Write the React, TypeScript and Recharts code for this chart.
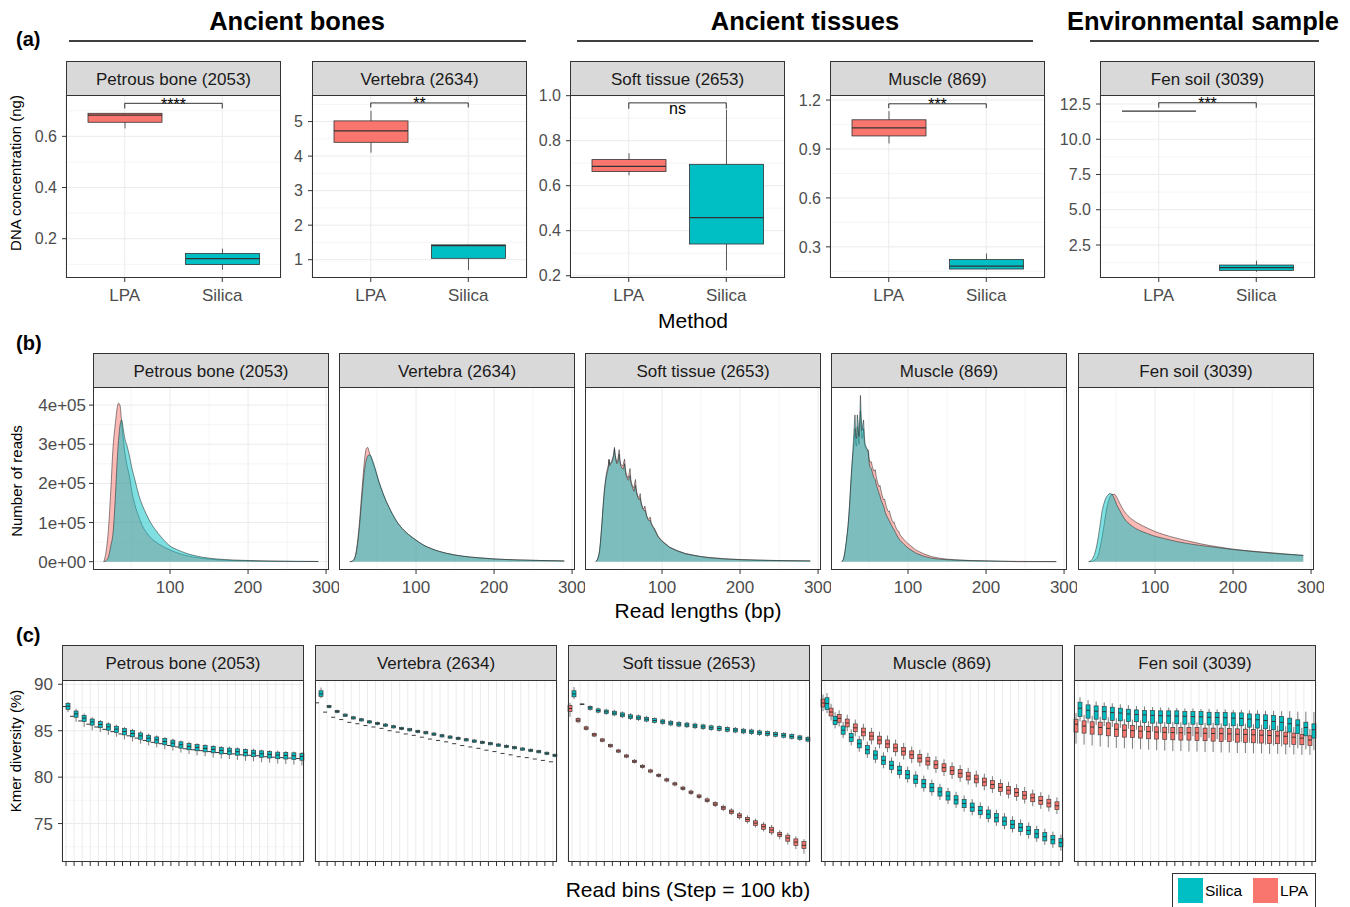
import React from 'react';
import {
  BarChart, Bar, AreaChart, Area, XAxis, YAxis, CartesianGrid, ReferenceLine,
} from 'recharts';

const SILICA = '#00BFC4';
const LPA = '#F8766D';
const AXIS_TEXT = '#4D4D4D';
const DARK = '#333333';
const GRID_MAJOR = '#EBEBEB';
const GRID_MINOR = '#EFEFEF';
const FONT = '"Liberation Sans", Arial, Helvetica, sans-serif';

const sampleNames = ['Petrous bone (2053)', 'Vertebra (2634)', 'Soft tissue (2653)', 'Muscle (869)', 'Fen soil (3039)'];
const methods = ['LPA', 'Silica'];

// ---------- (a) DNA concentration (ng), box stats [lo, q1, median, q3, hi] ----------
const concLpa = [
  [0.631, 0.655, 0.683, 0.69, 0.69],
  [4.1, 4.4, 4.73, 5.02, 5.31],
  [0.646, 0.663, 0.686, 0.716, 0.744],
  [0.934, 0.98, 1.029, 1.079, 1.132],
  [12.0, 12.0, 12.0, 12.0, 12.0],
];
const concSilica = [
  [0.079, 0.099, 0.122, 0.142, 0.161],
  [0.7, 1.04, 1.41, 1.43, 1.43],
  [0.224, 0.341, 0.458, 0.695, 0.937],
  [0.158, 0.164, 0.182, 0.222, 0.259],
  [0.6, 0.7, 0.9, 1.08, 1.39],
];
const concDomains = [[0.0465, 0.7615], [0.47, 5.77], [0.19, 1.003], [0.109, 1.231], [0.16, 13.14]];
const concTicks = [[0.2, 0.4, 0.6], [1, 2, 3, 4, 5], [0.2, 0.4, 0.6, 0.8, 1.0], [0.3, 0.6, 0.9, 1.2], [2.5, 5, 7.5, 10, 12.5]];
const concMinor = [[0.1, 0.3, 0.5, 0.7], [1.5, 2.5, 3.5, 4.5, 5.5], [0.3, 0.5, 0.7, 0.9], [0.15, 0.45, 0.75, 1.05], [1.25, 3.75, 6.25, 8.75, 11.25]];
const concDecimals = [1, 0, 1, 1, 1];
const sigY = [0.729, 5.54, 0.968, 1.177, 12.59];
const sigTip = [0.709, 5.41, 0.942, 1.15, 12.24];
const sigLabel = ['****', '**', 'ns', '***', '***'];

// ---------- (b) read length distributions, values in 1e5 reads ----------
const lenSmooth = [15, 18, 21, 24, 27, 30, 32, 34, 36, 38, 40, 42, 45, 48, 51, 55, 60, 65, 70, 75, 80, 90, 100, 110, 120, 140, 160, 180, 200, 230, 260, 290];
const lenSpiky = [
  15, 16, 17, 18, 19, 20, 21, 22, 23, 24, 25, 26, 27, 28, 29, 30, 31, 32, 33, 34, 35, 36, 37, 38, 39, 40,
  41, 42, 43, 44, 45, 46, 47, 48, 49, 50, 51, 52, 53, 54, 55, 56, 57, 58, 59, 60, 61, 62, 63, 64, 65,
  66, 67, 68, 69, 70, 71, 72, 73, 74, 75, 76, 77, 78, 79, 80, 81, 82, 83, 84, 85, 86, 87, 88, 89, 90,
  95, 100, 110, 120, 130, 140, 150, 160, 180, 200, 220, 240, 260, 290,
];
const petrousLpaReads = [0, 0.25, 0.82, 1.8, 2.94, 3.55, 3.9, 4.05, 3.98, 3.55, 3.15, 2.8, 2.45, 2.18, 1.8, 1.45, 1.15, 0.9, 0.74, 0.62, 0.53, 0.4, 0.3, 0.22, 0.16, 0.09, 0.05, 0.03, 0.02, 0.01, 0.006, 0.004];
const petrousSilicaReads = [0, 0.03, 0.12, 0.4, 0.75, 1.7, 2.5, 3.1, 3.5, 3.62, 3.4, 3.15, 2.95, 2.7, 2.4, 2.09, 1.7, 1.42, 1.2, 1.0, 0.85, 0.6, 0.4, 0.3, 0.22, 0.12, 0.07, 0.045, 0.03, 0.018, 0.01, 0.006];
const vertebraLpaReads = [0, 0.01, 0.08, 0.35, 0.9, 1.65, 2.15, 2.6, 2.88, 2.92, 2.8, 2.68, 2.5, 2.32, 2.12, 1.88, 1.62, 1.4, 1.2, 1.03, 0.9, 0.7, 0.55, 0.42, 0.33, 0.21, 0.14, 0.1, 0.07, 0.045, 0.03, 0.02];
const vertebraSilicaReads = [0, 0.01, 0.07, 0.3, 0.8, 1.5, 1.95, 2.35, 2.58, 2.7, 2.73, 2.7, 2.55, 2.36, 2.14, 1.9, 1.63, 1.41, 1.21, 1.04, 0.9, 0.7, 0.55, 0.42, 0.33, 0.21, 0.14, 0.1, 0.07, 0.045, 0.03, 0.02];
const fenLpaReads = [0, 0.005, 0.02, 0.06, 0.16, 0.4, 0.62, 0.85, 1.12, 1.35, 1.52, 1.64, 1.72, 1.72, 1.64, 1.48, 1.3, 1.18, 1.09, 1.02, 0.96, 0.86, 0.77, 0.7, 0.64, 0.54, 0.45, 0.38, 0.32, 0.26, 0.21, 0.16];
const fenSilicaReads = [0, 0.03, 0.12, 0.3, 0.6, 1.0, 1.28, 1.45, 1.58, 1.66, 1.71, 1.74, 1.72, 1.6, 1.45, 1.3, 1.12, 1.0, 0.92, 0.85, 0.8, 0.72, 0.65, 0.6, 0.55, 0.47, 0.41, 0.36, 0.31, 0.25, 0.2, 0.16];
const softLpaReads = [
  0, 0.02, 0.05, 0.1, 0.17, 0.28, 0.47, 0.72, 0.98, 1.28, 1.55, 1.8, 2.0, 2.15, 2.28, 2.38, 2.45, 2.62, 2.5, 2.52, 2.55, 2.6, 2.66, 2.75, 2.92, 2.72,
  2.62, 2.55, 2.58, 2.7, 2.86, 2.62, 2.5, 2.47, 2.45, 2.45, 2.55, 2.62, 2.38, 2.26, 2.2, 2.15, 2.15, 2.28, 2.38, 2.1, 2.0, 1.95, 1.9, 1.88, 2.02,
  2.1, 1.85, 1.75, 1.68, 1.64, 1.64, 1.74, 1.55, 1.46, 1.4, 1.36, 1.35, 1.42, 1.32, 1.2, 1.14, 1.1, 1.08, 1.12, 1.14, 1.0, 0.95, 0.92, 0.88, 0.86,
  0.65, 0.53, 0.37, 0.28, 0.21, 0.17, 0.13, 0.11, 0.075, 0.055, 0.042, 0.033, 0.027, 0.02,
];
const softSilicaReads = [
  0, 0.02, 0.05, 0.1, 0.18, 0.3, 0.5, 0.75, 1.0, 1.3, 1.55, 1.78, 1.95, 2.1, 2.22, 2.3, 2.38, 2.6, 2.45, 2.5, 2.52, 2.56, 2.62, 2.72, 2.88, 2.7,
  2.58, 2.5, 2.52, 2.6, 2.75, 2.55, 2.45, 2.42, 2.38, 2.36, 2.42, 2.5, 2.3, 2.2, 2.15, 2.1, 2.08, 2.15, 2.2, 2.02, 1.95, 1.9, 1.85, 1.8, 1.88,
  1.95, 1.78, 1.7, 1.64, 1.6, 1.58, 1.62, 1.5, 1.42, 1.37, 1.33, 1.3, 1.32, 1.26, 1.18, 1.12, 1.08, 1.05, 1.05, 1.05, 0.98, 0.93, 0.9, 0.86, 0.83,
  0.63, 0.52, 0.36, 0.27, 0.2, 0.16, 0.13, 0.1, 0.07, 0.05, 0.04, 0.03, 0.025, 0.02,
];
const muscleLpaReads = [
  0, 0.02, 0.05, 0.12, 0.22, 0.36, 0.5, 0.7, 0.88, 1.12, 1.4, 1.74, 2.08, 2.38, 2.68, 2.85, 3.1, 3.4, 3.0, 2.95, 3.45, 3.3, 3.0, 3.35, 3.85, 3.4,
  3.15, 3.25, 3.4, 3.05, 2.95, 2.9, 2.88, 2.86, 2.85, 2.65, 2.55, 2.55, 2.55, 2.45, 2.38, 2.32, 2.32, 2.35, 2.2, 2.1, 2.02, 1.96, 1.92, 1.95, 1.85,
  1.76, 1.68, 1.62, 1.58, 1.6, 1.5, 1.42, 1.36, 1.3, 1.28, 1.3, 1.22, 1.15, 1.08, 1.03, 1.0, 1.02, 0.95, 0.9, 0.85, 0.81, 0.78, 0.78, 0.72, 0.68,
  0.56, 0.46, 0.3, 0.2, 0.13, 0.09, 0.065, 0.05, 0.03, 0.02, 0.012, 0.008, 0.005, 0.003,
];
const muscleSilicaReads = [
  0, 0.02, 0.06, 0.14, 0.25, 0.4, 0.55, 0.72, 0.9, 1.15, 1.45, 1.8, 2.15, 2.45, 2.75, 3.1, 3.45, 3.75, 3.2, 3.15, 3.75, 3.55, 3.2, 3.6, 4.25, 3.7,
  3.35, 3.5, 3.62, 3.2, 3.0, 2.95, 2.9, 2.85, 2.8, 2.55, 2.43, 2.4, 2.38, 2.3, 2.22, 2.15, 2.12, 2.1, 2.0, 1.92, 1.86, 1.8, 1.74, 1.68, 1.6,
  1.55, 1.5, 1.45, 1.4, 1.32, 1.25, 1.2, 1.16, 1.12, 1.08, 1.04, 1.0, 0.96, 0.92, 0.88, 0.85, 0.82, 0.78, 0.74, 0.7, 0.66, 0.63, 0.6, 0.57, 0.54,
  0.44, 0.35, 0.22, 0.14, 0.09, 0.065, 0.05, 0.04, 0.025, 0.02, 0.01, 0, 0, 0,
];
const readTicks = [0, 100000, 200000, 300000, 400000];
const readMinor = [50000, 150000, 250000, 350000];

// ---------- (c) kmer diversity (%) per 100 kb read bin ----------
const bins = Array.from({ length: 30 }, (_, k) => String(k + 1));
const petrousSilicaLo = [87.0, 85.95, 85.4, 85.05, 84.85, 84.55, 84.35, 84.05, 83.85, 83.6, 83.4, 83.2, 83.0, 82.85, 82.65, 82.5, 82.35, 82.25, 82.1, 82.0, 81.95, 81.85, 81.75, 81.7, 81.6, 81.55, 81.45, 81.4, 81.35, 81.25];
const petrousSilicaQ1 = [87.3, 86.45, 85.98, 85.6, 85.32, 85.06, 84.8, 84.55, 84.34, 84.08, 83.84, 83.66, 83.48, 83.3, 83.12, 82.95, 82.84, 82.72, 82.62, 82.5, 82.44, 82.36, 82.28, 82.2, 82.14, 82.06, 81.98, 81.95, 81.9, 81.82];
const petrousSilicaMed = [87.64, 86.81, 86.35, 85.95, 85.67, 85.42, 85.17, 84.92, 84.7, 84.45, 84.2, 84.02, 83.84, 83.67, 83.49, 83.31, 83.2, 83.09, 82.99, 82.88, 82.81, 82.74, 82.66, 82.59, 82.52, 82.45, 82.38, 82.34, 82.31, 82.23];
const petrousSilicaQ3 = [87.95, 87.12, 86.66, 86.26, 85.98, 85.73, 85.48, 85.23, 85.01, 84.76, 84.51, 84.33, 84.15, 83.98, 83.8, 83.62, 83.51, 83.4, 83.3, 83.19, 83.12, 83.05, 82.97, 82.9, 82.83, 82.76, 82.69, 82.65, 82.62, 82.54];
const petrousSilicaHi = [88.1, 87.35, 86.85, 86.45, 86.15, 85.9, 85.65, 85.4, 85.2, 84.95, 84.7, 84.5, 84.3, 84.15, 83.95, 83.8, 83.65, 83.55, 83.45, 83.35, 83.3, 83.2, 83.1, 83.05, 82.95, 82.9, 82.85, 82.8, 82.75, 82.7];
const petrousLpaMed = [87.6, 86.55, 86.05, 85.7, 85.4, 85.15, 84.9, 84.65, 84.45, 84.2, 83.95, 83.75, 83.6, 83.4, 83.25, 83.05, 82.95, 82.85, 82.75, 82.65, 82.55, 82.5, 82.4, 82.35, 82.3, 82.2, 82.15, 82.1, 82.05, 82.0];

const vertebraSilicaLo = [88.5, 87.4, 86.88, 86.48, 86.18, 85.97, 85.75, 85.58, 85.4, 85.22, 85.04, 84.9, 84.72, 84.58, 84.43, 84.25, 84.11, 83.97, 83.82, 83.68, 83.54, 83.4, 83.25, 83.11, 82.97, 82.82, 82.68, 82.54, 82.36, 82.14];
const vertebraSilicaQ1 = [88.7, 87.48, 86.95, 86.55, 86.26, 86.05, 85.83, 85.66, 85.48, 85.3, 85.12, 84.98, 84.8, 84.66, 84.51, 84.33, 84.19, 84.05, 83.9, 83.76, 83.62, 83.48, 83.33, 83.19, 83.05, 82.9, 82.76, 82.62, 82.44, 82.22];
const vertebraSilicaMed = [88.96, 87.6, 87.07, 86.67, 86.38, 86.17, 85.95, 85.78, 85.6, 85.42, 85.24, 85.1, 84.92, 84.78, 84.63, 84.45, 84.31, 84.17, 84.02, 83.88, 83.74, 83.6, 83.45, 83.31, 83.17, 83.02, 82.88, 82.74, 82.56, 82.34];
const vertebraSilicaQ3 = [89.3, 87.72, 87.19, 86.79, 86.5, 86.29, 86.07, 85.9, 85.72, 85.54, 85.36, 85.22, 85.04, 84.9, 84.75, 84.57, 84.43, 84.29, 84.14, 84.0, 83.86, 83.72, 83.57, 83.43, 83.29, 83.14, 83.0, 82.86, 82.68, 82.46];
const vertebraSilicaHi = [89.65, 87.8, 87.28, 86.88, 86.6, 86.38, 86.16, 85.99, 85.82, 85.64, 85.46, 85.31, 85.14, 85.0, 84.85, 84.67, 84.53, 84.39, 84.24, 84.1, 83.96, 83.82, 83.67, 83.53, 83.39, 83.24, 83.1, 82.96, 82.78, 82.56];
const vertebraLpaMed = [88.0, 87.0, 86.45, 86.2, 85.9, 85.75, 85.55, 85.4, 85.25, 85.0, 84.85, 84.65, 84.5, 84.3, 84.1, 83.95, 83.8, 83.6, 83.4, 83.25, 83.1, 82.9, 82.75, 82.55, 82.4, 82.2, 82.1, 81.95, 81.8, 81.65];

const softSilicaLo = [88.4, 87.8, 87.15, 86.85, 86.7, 86.55, 86.35, 86.15, 86.05, 85.9, 85.76, 85.62, 85.48, 85.36, 85.28, 85.18, 85.08, 84.98, 84.9, 84.8, 84.72, 84.62, 84.54, 84.44, 84.36, 84.26, 84.16, 84.04, 83.9, 83.74];
const softSilicaQ1 = [88.65, 87.82, 87.3, 87.0, 86.85, 86.7, 86.5, 86.3, 86.2, 86.04, 85.9, 85.76, 85.62, 85.5, 85.42, 85.32, 85.22, 85.12, 85.04, 84.94, 84.86, 84.76, 84.68, 84.58, 84.5, 84.4, 84.3, 84.18, 84.04, 83.88];
const softSilicaMed = [88.96, 87.85, 87.46, 87.17, 87.03, 86.89, 86.7, 86.5, 86.39, 86.24, 86.1, 85.96, 85.82, 85.7, 85.62, 85.52, 85.42, 85.32, 85.24, 85.14, 85.06, 84.96, 84.88, 84.78, 84.7, 84.6, 84.5, 84.38, 84.24, 84.08];
const softSilicaQ3 = [89.3, 87.88, 87.62, 87.35, 87.22, 87.1, 86.92, 86.72, 86.6, 86.45, 86.3, 86.16, 86.02, 85.9, 85.82, 85.72, 85.62, 85.52, 85.44, 85.34, 85.26, 85.16, 85.08, 84.98, 84.9, 84.8, 84.7, 84.58, 84.44, 84.28];
const softSilicaHi = [89.7, 87.9, 87.75, 87.5, 87.38, 87.25, 87.08, 86.88, 86.75, 86.6, 86.45, 86.3, 86.16, 86.04, 85.96, 85.86, 85.76, 85.66, 85.58, 85.48, 85.4, 85.3, 85.22, 85.12, 85.04, 84.94, 84.84, 84.72, 84.58, 84.42];
const softLpaLo = [86.5, 85.8, 85.0, 84.3, 83.74, 83.14, 82.57, 82.03, 81.45, 80.9, 80.4, 79.93, 79.43, 79.0, 78.52, 78.08, 77.64, 77.2, 76.76, 76.34, 75.9, 75.44, 75.0, 74.58, 74.15, 73.75, 73.3, 72.75, 72.25, 71.75];
const softLpaQ1 = [87.05, 85.96, 85.14, 84.42, 83.86, 83.26, 82.69, 82.15, 81.58, 81.04, 80.54, 80.07, 79.58, 79.15, 78.67, 78.24, 77.8, 77.36, 76.93, 76.52, 76.08, 75.63, 75.21, 74.8, 74.39, 74.0, 73.6, 73.1, 72.65, 72.3];
const softLpaMed = [87.39, 86.13, 85.28, 84.56, 83.99, 83.38, 82.81, 82.27, 81.7, 81.16, 80.66, 80.19, 79.7, 79.27, 78.8, 78.37, 77.94, 77.51, 77.09, 76.69, 76.27, 75.84, 75.44, 75.05, 74.66, 74.3, 73.83, 73.44, 73.01, 72.65];
const softLpaQ3 = [87.72, 86.3, 85.42, 84.7, 84.12, 83.5, 82.93, 82.39, 81.82, 81.28, 80.78, 80.31, 79.82, 79.39, 78.93, 78.5, 78.08, 77.66, 77.25, 76.86, 76.46, 76.05, 75.67, 75.3, 74.93, 74.6, 74.06, 73.75, 73.35, 73.05];
const softLpaHi = [88.0, 86.45, 85.55, 84.82, 84.24, 83.62, 83.05, 82.51, 81.95, 81.41, 80.91, 80.44, 79.96, 79.53, 79.07, 78.65, 78.23, 77.82, 77.42, 77.04, 76.65, 76.25, 75.88, 75.52, 75.16, 74.85, 74.3, 74.0, 73.62, 73.32];

const muscleLpaLo = [87.1, 86.1, 85.45, 84.93, 84.4, 83.96, 83.52, 83.1, 82.68, 82.25, 81.88, 81.5, 81.14, 80.82, 80.44, 80.12, 79.8, 79.5, 79.2, 78.9, 78.58, 78.3, 77.98, 77.7, 77.44, 77.15, 76.86, 76.58, 76.3, 76.02];
const muscleLpaQ1 = [87.56, 86.59, 85.91, 85.41, 84.89, 84.44, 84.0, 83.57, 83.16, 82.73, 82.37, 81.99, 81.62, 81.3, 80.92, 80.6, 80.28, 79.99, 79.69, 79.38, 79.06, 78.78, 78.47, 78.17, 77.92, 77.63, 77.35, 77.06, 76.78, 76.5];
const muscleLpaMed = [87.98, 87.01, 86.33, 85.83, 85.31, 84.86, 84.42, 83.99, 83.58, 83.15, 82.79, 82.41, 82.04, 81.72, 81.34, 81.02, 80.7, 80.41, 80.11, 79.8, 79.48, 79.2, 78.89, 78.59, 78.34, 78.05, 77.77, 77.48, 77.2, 76.92];
const muscleLpaQ3 = [88.4, 87.43, 86.75, 86.25, 85.73, 85.28, 84.84, 84.41, 84.0, 83.57, 83.21, 82.83, 82.46, 82.14, 81.76, 81.44, 81.12, 80.83, 80.53, 80.22, 79.9, 79.62, 79.31, 79.01, 78.76, 78.47, 78.19, 77.9, 77.62, 77.34];
const muscleLpaHi = [88.9, 87.9, 87.2, 86.72, 86.2, 85.75, 85.3, 84.9, 84.48, 84.05, 83.68, 83.3, 82.95, 82.62, 82.25, 81.92, 81.6, 81.3, 81.0, 80.7, 80.38, 80.1, 79.78, 79.5, 79.24, 78.95, 78.66, 78.38, 78.1, 77.82];
const muscleSilicaLo = [86.9, 85.25, 84.2, 83.42, 82.73, 82.08, 81.5, 80.94, 80.4, 79.86, 79.4, 78.9, 78.43, 78.0, 77.54, 77.1, 76.68, 76.28, 75.88, 75.54, 75.14, 74.74, 74.38, 74.04, 73.7, 73.38, 73.02, 72.7, 72.38, 72.06];
const muscleSilicaQ1 = [87.3, 85.65, 84.62, 83.84, 83.15, 82.5, 81.93, 81.36, 80.82, 80.28, 79.82, 79.32, 78.85, 78.42, 77.96, 77.53, 77.1, 76.71, 76.31, 75.96, 75.56, 75.17, 74.81, 74.46, 74.13, 73.81, 73.45, 73.13, 72.81, 72.49];
const muscleSilicaMed = [87.92, 86.1, 85.06, 84.28, 83.59, 82.95, 82.38, 81.81, 81.27, 80.73, 80.27, 79.77, 79.3, 78.87, 78.41, 77.98, 77.55, 77.16, 76.76, 76.41, 76.01, 75.62, 75.26, 74.91, 74.58, 74.26, 73.9, 73.58, 73.26, 72.94];
const muscleSilicaQ3 = [88.55, 86.55, 85.5, 84.72, 84.03, 83.4, 82.83, 82.26, 81.72, 81.18, 80.72, 80.22, 79.75, 79.32, 78.86, 78.43, 78.0, 77.61, 77.21, 76.86, 76.46, 76.07, 75.71, 75.36, 75.03, 74.71, 74.35, 74.03, 73.71, 73.39];
const muscleSilicaHi = [89.05, 87.0, 85.95, 85.15, 84.45, 83.82, 83.25, 82.68, 82.14, 81.6, 81.14, 80.64, 80.17, 79.74, 79.28, 78.85, 78.42, 78.03, 77.63, 77.28, 76.88, 76.49, 76.13, 75.78, 75.45, 75.13, 74.77, 74.45, 74.13, 73.81];

const fenSilicaLo = [86.0, 85.8, 85.6, 85.5, 85.4, 85.3, 85.2, 85.1, 85.0, 84.9, 84.8, 84.7, 84.6, 84.5, 84.4, 84.3, 84.2, 84.1, 84.0, 83.9, 83.8, 83.7, 83.6, 83.5, 83.4, 83.3, 83.2, 83.1, 83.0, 82.9];
const fenSilicaQ1 = [86.53, 86.35, 86.24, 86.21, 86.1, 86.06, 85.99, 85.96, 85.88, 85.81, 85.81, 85.78, 85.74, 85.7, 85.7, 85.67, 85.63, 85.63, 85.56, 85.53, 85.53, 85.38, 85.28, 85.2, 85.1, 84.99, 84.85, 84.7, 84.45, 84.2];
const fenSilicaMed = [87.42, 87.2, 87.1, 87.05, 86.95, 86.9, 86.8, 86.75, 86.7, 86.65, 86.62, 86.6, 86.58, 86.55, 86.52, 86.5, 86.45, 86.42, 86.4, 86.35, 86.32, 86.25, 86.18, 86.1, 86.0, 85.9, 85.75, 85.6, 85.35, 85.1];
const fenSilicaQ3 = [88.07, 87.78, 87.67, 87.6, 87.53, 87.42, 87.31, 87.24, 87.17, 87.17, 87.14, 87.14, 87.14, 87.06, 87.06, 87.06, 86.99, 86.96, 86.96, 86.92, 86.92, 86.81, 86.78, 86.71, 86.63, 86.53, 86.35, 86.17, 85.92, 85.74];
const fenSilicaHi = [88.6, 88.3, 88.15, 88.05, 87.95, 87.85, 87.75, 87.65, 87.6, 87.55, 87.5, 87.5, 87.45, 87.4, 87.4, 87.35, 87.35, 87.3, 87.3, 87.25, 87.25, 87.2, 87.2, 87.15, 87.15, 87.1, 87.1, 87.05, 87.05, 87.0];
const fenLpaLo = [83.6, 83.5, 83.4, 83.3, 83.2, 83.15, 83.1, 83.05, 83.0, 82.95, 82.9, 82.85, 82.8, 82.8, 82.75, 82.75, 82.7, 82.7, 82.65, 82.65, 82.6, 82.6, 82.55, 82.55, 82.5, 82.5, 82.45, 82.45, 82.4, 82.4];
const fenLpaQ1 = [84.85, 84.74, 84.63, 84.56, 84.45, 84.38, 84.31, 84.28, 84.2, 84.13, 84.1, 84.06, 84.02, 83.99, 83.99, 83.95, 83.92, 83.88, 83.85, 83.85, 83.77, 83.74, 83.7, 83.67, 83.63, 83.6, 83.56, 83.52, 83.49, 83.42];
const fenLpaMed = [85.7, 85.5, 85.4, 85.35, 85.25, 85.15, 85.05, 85.0, 84.95, 84.9, 84.85, 84.82, 84.8, 84.78, 84.78, 84.76, 84.72, 84.7, 84.68, 84.66, 84.62, 84.6, 84.56, 84.52, 84.48, 84.44, 84.4, 84.3, 84.2, 84.0];
const fenLpaQ3 = [86.24, 86.06, 85.96, 85.92, 85.85, 85.74, 85.63, 85.56, 85.49, 85.45, 85.42, 85.38, 85.35, 85.35, 85.35, 85.35, 85.28, 85.28, 85.28, 85.24, 85.2, 85.17, 85.13, 85.06, 85.03, 84.96, 84.85, 84.74, 84.6, 84.45];
const fenLpaHi = [86.9, 86.7, 86.6, 86.5, 86.45, 86.35, 86.25, 86.2, 86.1, 86.05, 86.0, 85.95, 85.95, 85.9, 85.9, 85.9, 85.85, 85.85, 85.8, 85.8, 85.75, 85.75, 85.7, 85.65, 85.6, 85.55, 85.5, 85.4, 85.3, 85.2];

const kmerTicks = [75, 80, 85, 90];
const kmerMinor = [72.5, 77.5, 82.5, 87.5];

// ---------- layout ----------
const PAD_L = 60;
const PAD_R = 10;
const PAD_T = 15;
const AXIS_H = 40;
const A_LEFT = [66, 312, 570, 830, 1100];
const A_W = 215, A_TOP = 95, A_H = 183, A_STRIP = 61;
const B_LEFT = [93, 339, 585, 831, 1078];
const B_W = 236, B_TOP = 387, B_H = 183, B_STRIP = 353;
const C_LEFT = [62, 315, 568, 821, 1074];
const C_W = 242, C_TOP = 680, C_H = 182, C_STRIP = 645;

function makeBox(statsKey: string, fill: string | null, lw: number) {
  return (props: any) => {
    const { x, y, width, height, payload } = props;
    const s = payload && payload[statsKey];
    if (!s) return null;
    const [lo, q1, med, q3, hi] = s;
    const top = Math.min(y, y + height);
    const h = Math.abs(height);
    const span = hi - lo;
    const py = (v: number) => (span === 0 ? top : top + ((hi - v) / span) * h);
    const cx = x + width / 2;
    const boxTop = py(q3);
    const boxH = Math.max(py(q1) - boxTop, 0);
    return (
      <g>
        <line x1={cx} x2={cx} y1={py(hi)} y2={boxTop} stroke={DARK} strokeWidth={lw} />
        <line x1={cx} x2={cx} y1={py(q1)} y2={py(lo)} stroke={DARK} strokeWidth={lw} />
        <rect x={x} y={boxTop} width={width} height={boxH} fill={fill || payload.fill} stroke={DARK} strokeWidth={lw} />
        <line x1={x} x2={x + width} y1={py(med)} y2={py(med)} stroke={DARK} strokeWidth={lw * 1.5} />
      </g>
    );
  };
}

const concBox = makeBox('stats', null, 0.8);
const lpaKmerBox = makeBox('lpa', LPA, 0.65);
const silicaKmerBox = makeBox('silica', SILICA, 0.65);
const NoTickText = () => <g />;

const SigLabel = (props: any) => {
  const { viewBox, text } = props;
  if (!viewBox) return null;
  const cx = viewBox.x + viewBox.width / 2;
  const dy = text === 'ns' ? 11.5 : 6.5;
  return (
    <text x={cx} y={viewBox.y + dy} textAnchor="middle" fontSize={16} fill="#000">{text}</text>
  );
};

function ConcPanel({ i }: { i: number }) {
  const data = methods.map((m, k) => {
    const s = k === 0 ? concLpa[i] : concSilica[i];
    return { method: m, range: [s[0], s[4]], stats: s, fill: k === 0 ? LPA : SILICA };
  });
  const d = concDecimals[i];
  return (
    <div style={{ position: 'absolute', left: A_LEFT[i] - PAD_L, top: A_TOP - PAD_T }}>
      <BarChart width={A_W + PAD_L + PAD_R} height={A_H + PAD_T + AXIS_H} data={data}
        margin={{ top: PAD_T, right: PAD_R, bottom: 0, left: 0 }}>
        <CartesianGrid horizontalValues={concMinor[i]} vertical={false} stroke={GRID_MINOR} strokeWidth={0.6} />
        <CartesianGrid horizontalValues={concTicks[i]} stroke={GRID_MAJOR} />
        <XAxis dataKey="method" type="category" padding={{ left: 10, right: 10 }} height={AXIS_H} interval={0}
          axisLine={false} tickSize={4} tickMargin={7} tickLine={{ stroke: DARK }}
          tick={{ fontSize: 17, fill: AXIS_TEXT }} />
        <YAxis type="number" width={PAD_L} domain={concDomains[i]} ticks={concTicks[i]} allowDataOverflow interval={0}
          axisLine={false} tickSize={4} tickMargin={5} tickLine={{ stroke: DARK }}
          tick={{ fontSize: 16, fill: AXIS_TEXT }} tickFormatter={(v: number) => Number(v).toFixed(d)} />
        <Bar dataKey="range" barSize={74} shape={concBox} isAnimationActive={false} />
        <ReferenceLine segment={[{ x: 'LPA', y: sigY[i] }, { x: 'Silica', y: sigY[i] }]} stroke="#000" strokeWidth={0.8}
          label={<SigLabel text={sigLabel[i]} />} />
        <ReferenceLine segment={[{ x: 'LPA', y: sigY[i] }, { x: 'LPA', y: sigTip[i] }]} stroke="#000" strokeWidth={0.8} />
        <ReferenceLine segment={[{ x: 'Silica', y: sigY[i] }, { x: 'Silica', y: sigTip[i] }]} stroke="#000" strokeWidth={0.8} />
      </BarChart>
    </div>
  );
}

const readSeries = [
  { len: lenSmooth, lpa: petrousLpaReads, silica: petrousSilicaReads, curve: 'monotone' },
  { len: lenSmooth, lpa: vertebraLpaReads, silica: vertebraSilicaReads, curve: 'monotone' },
  { len: lenSpiky, lpa: softLpaReads, silica: softSilicaReads, curve: 'linear' },
  { len: lenSpiky, lpa: muscleLpaReads, silica: muscleSilicaReads, curve: 'linear' },
  { len: lenSmooth, lpa: fenLpaReads, silica: fenSilicaReads, curve: 'monotone' },
];

function ReadPanel({ i }: { i: number }) {
  const s = readSeries[i];
  const data = s.len.map((L, k) => ({ len: L, lpa: s.lpa[k] * 1e5, silica: s.silica[k] * 1e5 }));
  const first = i === 0;
  return (
    <div style={{ position: 'absolute', left: B_LEFT[i] - PAD_L, top: B_TOP - PAD_T }}>
      <AreaChart width={B_W + PAD_L + PAD_R} height={B_H + PAD_T + AXIS_H} data={data}
        margin={{ top: PAD_T, right: PAD_R, bottom: 0, left: 0 }}>
        <CartesianGrid verticalValues={[50, 150, 250]} horizontalValues={readMinor} stroke={GRID_MINOR} strokeWidth={0.6} />
        <CartesianGrid verticalValues={[100, 200, 300]} horizontalValues={readTicks} stroke={GRID_MAJOR} />
        <XAxis dataKey="len" type="number" domain={[1.25, 303.75]} ticks={[100, 200, 300]} allowDataOverflow interval={0}
          height={AXIS_H} axisLine={false} tickSize={4} tickMargin={7} tickLine={{ stroke: DARK }}
          tick={{ fontSize: 17, fill: AXIS_TEXT }} />
        <YAxis type="number" width={PAD_L} domain={[-21250, 446250]} ticks={readTicks} allowDataOverflow interval={0}
          axisLine={false} tickSize={4} tickMargin={3} tickLine={first ? { stroke: DARK } : false}
          tick={first ? { fontSize: 17, fill: AXIS_TEXT } : false}
          tickFormatter={(v: number) => (v === 0 ? '0e+00' : `${v / 100000}e+05`)} />
        <Area dataKey="lpa" type={s.curve as any} baseValue={0} fill={LPA} fillOpacity={0.5} stroke="#1A1A1A"
          strokeWidth={0.5} dot={false} activeDot={false} isAnimationActive={false} />
        <Area dataKey="silica" type={s.curve as any} baseValue={0} fill={SILICA} fillOpacity={0.5} stroke="#1A1A1A"
          strokeWidth={0.5} dot={false} activeDot={false} isAnimationActive={false} />
      </AreaChart>
    </div>
  );
}

const kmerSeries = [
  { lpa: [petrousLpaMed, petrousLpaMed, petrousLpaMed, petrousLpaMed, petrousLpaMed], silica: [petrousSilicaLo, petrousSilicaQ1, petrousSilicaMed, petrousSilicaQ3, petrousSilicaHi] },
  { lpa: [vertebraLpaMed, vertebraLpaMed, vertebraLpaMed, vertebraLpaMed, vertebraLpaMed], silica: [vertebraSilicaLo, vertebraSilicaQ1, vertebraSilicaMed, vertebraSilicaQ3, vertebraSilicaHi] },
  { lpa: [softLpaLo, softLpaQ1, softLpaMed, softLpaQ3, softLpaHi], silica: [softSilicaLo, softSilicaQ1, softSilicaMed, softSilicaQ3, softSilicaHi] },
  { lpa: [muscleLpaLo, muscleLpaQ1, muscleLpaMed, muscleLpaQ3, muscleLpaHi], silica: [muscleSilicaLo, muscleSilicaQ1, muscleSilicaMed, muscleSilicaQ3, muscleSilicaHi] },
  { lpa: [fenLpaLo, fenLpaQ1, fenLpaMed, fenLpaQ3, fenLpaHi], silica: [fenSilicaLo, fenSilicaQ1, fenSilicaMed, fenSilicaQ3, fenSilicaHi] },
];

function KmerPanel({ i }: { i: number }) {
  const s = kmerSeries[i];
  const data = bins.map((b, k) => {
    const lpa = s.lpa.map((arr) => arr[k]);
    const silica = s.silica.map((arr) => arr[k]);
    return { bin: b, lpa, silica, lpaRange: [lpa[0], lpa[4]], silicaRange: [silica[0], silica[4]] };
  });
  const first = i === 0;
  return (
    <div style={{ position: 'absolute', left: C_LEFT[i] - PAD_L, top: C_TOP - PAD_T }}>
      <BarChart width={C_W + PAD_L + PAD_R} height={C_H + PAD_T + AXIS_H} data={data} barGap={0}
        margin={{ top: PAD_T, right: PAD_R, bottom: 0, left: 0 }}>
        <CartesianGrid horizontalValues={kmerMinor} vertical={false} stroke={GRID_MINOR} strokeWidth={0.6} />
        <CartesianGrid horizontalValues={kmerTicks} stroke={GRID_MAJOR} />
        <XAxis dataKey="bin" type="category" height={AXIS_H} interval={0} axisLine={false} tick={<NoTickText />}
          tickSize={4} tickLine={{ stroke: DARK }} />
        <YAxis type="number" width={PAD_L} domain={[70.86, 90.46]} ticks={kmerTicks} allowDataOverflow interval={0}
          axisLine={false} tickSize={4} tickMargin={5} tickLine={first ? { stroke: DARK } : false}
          tick={first ? { fontSize: 17, fill: AXIS_TEXT } : false} />
        <Bar dataKey="lpaRange" barSize={4} shape={lpaKmerBox} isAnimationActive={false} />
        <Bar dataKey="silicaRange" barSize={4} shape={silicaKmerBox} isAnimationActive={false} />
      </BarChart>
    </div>
  );
}

function Strip({ left, top, width, height, text }: any) {
  return (
    <g>
      <rect x={left + 0.5} y={top + 0.5} width={width - 1} height={height} fill="#D9D9D9" stroke={DARK} strokeWidth={1} />
      <text x={left + width / 2} y={top + height / 2 + 6.5} textAnchor="middle" fontSize={17} fill="#1A1A1A">{text}</text>
    </g>
  );
}

function Overlay() {
  const T = (props: any) => <text fontFamily={FONT} {...props} />;
  return (
    <svg width={1350} height={907} style={{ position: 'absolute', left: 0, top: 0, pointerEvents: 'none' }}
      fontFamily={FONT}>
      <T x={297} y={30} fontSize={25.5} fontWeight="bold" textAnchor="middle">Ancient bones</T>
      <T x={805} y={30} fontSize={25.5} fontWeight="bold" textAnchor="middle">Ancient tissues</T>
      <T x={1203} y={30} fontSize={25.5} fontWeight="bold" textAnchor="middle" textLength={272} lengthAdjust="spacingAndGlyphs">Environmental sample</T>
      <line x1={69} x2={526} y1={41} y2={41} stroke="#000" strokeWidth={1.3} />
      <line x1={577} x2={1033} y1={41} y2={41} stroke="#000" strokeWidth={1.3} />
      <line x1={1090} x2={1319} y1={41} y2={41} stroke="#000" strokeWidth={1.3} />
      <T x={16} y={46} fontSize={20} fontWeight="bold">(a)</T>
      <T x={16} y={350} fontSize={20} fontWeight="bold">(b)</T>
      <T x={16} y={642} fontSize={20} fontWeight="bold">(c)</T>

      {sampleNames.map((n, i) => (
        <g key={'s' + i}>
          <Strip left={A_LEFT[i]} top={A_STRIP} width={A_W} height={A_TOP - A_STRIP} text={n} />
          <rect x={A_LEFT[i] + 0.5} y={A_TOP + 0.5} width={A_W - 1} height={A_H - 1} fill="none" stroke={DARK} />
          <Strip left={B_LEFT[i]} top={B_STRIP} width={B_W} height={B_TOP - B_STRIP} text={n} />
          <rect x={B_LEFT[i] + 0.5} y={B_TOP + 0.5} width={B_W - 1} height={B_H - 1} fill="none" stroke={DARK} />
          <Strip left={C_LEFT[i]} top={C_STRIP} width={C_W} height={C_TOP - C_STRIP} text={n} />
          <rect x={C_LEFT[i] + 0.5} y={C_TOP + 0.5} width={C_W - 1} height={C_H - 1} fill="none" stroke={DARK} />
        </g>
      ))}

      <T x={693} y={328} fontSize={21} textAnchor="middle">Method</T>
      <T x={698} y={618} fontSize={21} textAnchor="middle">Read lengths (bp)</T>
      <T x={688} y={897} fontSize={21} textAnchor="middle">Read bins (Step = 100 kb)</T>
      <T transform="translate(21,173) rotate(-90)" fontSize={15} textAnchor="middle">DNA concentration (ng)</T>
      <T transform="translate(22,481) rotate(-90)" fontSize={15} textAnchor="middle">Number of reads</T>
      <T transform="translate(21,751) rotate(-90)" fontSize={15} textAnchor="middle">Kmer diversity (%)</T>

      <rect x={1172.5} y={873.5} width={143} height={40} fill="#fff" stroke={DARK} />
      <rect x={1178} y={878} width={25} height={25} fill={SILICA} />
      <T x={1205} y={896} fontSize={15.5}>Silica</T>
      <rect x={1253} y={878} width={25} height={25} fill={LPA} />
      <T x={1280} y={896} fontSize={15.5}>LPA</T>
    </svg>
  );
}

export default function App() {
  return (
    <div style={{ position: 'absolute', left: 0, top: 0, width: 1350, height: 907, overflow: 'hidden', background: '#fff', fontFamily: FONT }}>
      {[0, 1, 2, 3, 4].map((i) => <ConcPanel key={'a' + i} i={i} />)}
      {[0, 1, 2, 3, 4].map((i) => <ReadPanel key={'b' + i} i={i} />)}
      {[0, 1, 2, 3, 4].map((i) => <KmerPanel key={'c' + i} i={i} />)}
      <Overlay />
    </div>
  );
}
